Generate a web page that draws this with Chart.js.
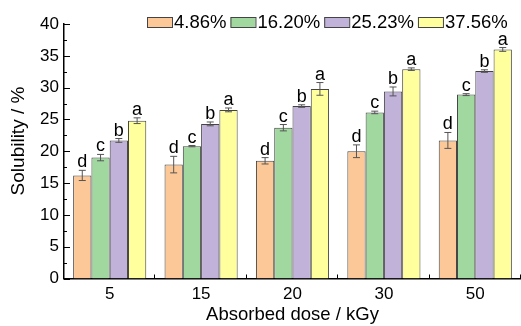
<!DOCTYPE html>
<html>
<head>
<meta charset="utf-8">
<script src="https://cdn.jsdelivr.net/npm/chart.js@4/dist/chart.umd.min.js"></script>
<style>
	html, body { margin: 0; padding: 0; background: #fff; }
	#wrap { width: 521px; height: 326px; }
</style>
</head>
<body>
<div id="wrap"><canvas id="bar-chart"></canvas></div>
<script>
var doses = ['5', '15', '20', '30', '50'];
var seriesLabels = ['4.86%', '16.20%', '25.23%', '37.56%'];

var sol486 = [16.2, 17.9, 18.5, 20.0, 21.7];
var sol1620 = [19.0, 20.8, 23.7, 26.1, 28.9];
var sol2523 = [21.7, 24.3, 27.1, 29.4, 32.6];
var sol3756 = [24.8, 26.5, 29.8, 32.9, 36.0];

var err486 = [0.8, 1.3, 0.5, 1.0, 1.25];
var err1620 = [0.5, 0.1, 0.5, 0.2, 0.15];
var err2523 = [0.3, 0.3, 0.2, 0.7, 0.2];
var err3756 = [0.45, 0.3, 1.0, 0.2, 0.3];

var sig486 = ['d', 'd', 'd', 'd', 'd'];
var sig1620 = ['c', 'c', 'c', 'c', 'c'];
var sig2523 = ['b', 'b', 'b', 'b', 'b'];
var sig3756 = ['a', 'a', 'a', 'a', 'a'];

var yMin = 0, yMax = 40, yStep = 5;
var yTitle = 'Solubility / %';
var xTitle = 'Absorbed dose / kGy';

var fillColors = ['#FDC898', '#A0D8A0', '#C0B2D8', '#FFFF9E'];
var FONT = 'Arial, "Liberation Sans", sans-serif';

Chart.defaults.font.family = FONT;
Chart.defaults.color = '#000';

// error bars + significance letters
var errorBarPlugin = {
	id: 'errorBars',
	afterDatasetsDraw: function (chart) {
		var ctx = chart.ctx;
		var y = chart.scales.y;
		ctx.save();
		chart.data.datasets.forEach(function (ds, di) {
			var meta = chart.getDatasetMeta(di);
			meta.data.forEach(function (bar, i) {
				var v = ds.data[i], e = ds.errors[i];
				var top = y.getPixelForValue(v + e);
				var bot = y.getPixelForValue(v - e);
				ctx.strokeStyle = '#555';
				ctx.lineWidth = 1;
				ctx.beginPath();
				ctx.moveTo(bar.x, top); ctx.lineTo(bar.x, bot);
				ctx.moveTo(bar.x - 3.5, top); ctx.lineTo(bar.x + 3.5, top);
				ctx.moveTo(bar.x - 3.5, bot); ctx.lineTo(bar.x + 3.5, bot);
				ctx.stroke();
				ctx.fillStyle = '#000';
				ctx.font = '18px ' + FONT;
				ctx.textAlign = 'center';
				ctx.textBaseline = 'alphabetic';
				ctx.fillText(ds.letters[i], bar.x, top - 3);
			});
		});
		ctx.restore();
	}
};

// inward ticks (Origin style), y title, legend row on top
var axisDecorPlugin = {
	id: 'axisDecor',
	afterDraw: function (chart) {
		var ctx = chart.ctx;
		var x = chart.scales.x, y = chart.scales.y;
		ctx.save();
		ctx.strokeStyle = '#000';
		ctx.lineWidth = 1;
		ctx.beginPath();
		for (var v = yMin; v <= yMax + 0.001; v += yStep / 2) {
			var py = Math.round(y.getPixelForValue(v)) + 0.5;
			var len = (v % yStep === 0) ? 6 : 3;
			ctx.moveTo(x.left, py); ctx.lineTo(x.left + len, py);
		}
		for (var i = 1; i <= doses.length; i++) {
			var px = Math.round(x.getPixelForValue(i - 0.5)) - 0.5;
			ctx.moveTo(px, y.bottom); ctx.lineTo(px, y.bottom - 4);
		}
		ctx.stroke();

		// y title sits a bit above the middle in the original
		ctx.save();
		ctx.translate(18.5, 141);
		ctx.rotate(-Math.PI / 2);
		ctx.font = '19px ' + FONT;
		ctx.fillStyle = '#000';
		ctx.textAlign = 'center';
		ctx.textBaseline = 'middle';
		ctx.fillText(yTitle, 0, 0);
		ctx.restore();

		// legend
		ctx.font = '18.5px ' + FONT;
		ctx.textBaseline = 'middle';
		ctx.textAlign = 'left';
		var lx = 147, ly = 17, bw = 25, bh = 10;
		chart.data.datasets.forEach(function (ds) {
			ctx.fillStyle = ds.backgroundColor;
			ctx.fillRect(lx, ly, bw, bh);
			ctx.strokeStyle = '#444';
			ctx.strokeRect(lx + 0.5, ly + 0.5, bw, bh);
			ctx.fillStyle = '#000';
			ctx.fillText(ds.label, lx + bw + 2, ly + bh / 2 + 1);
			lx += bw + 2 + ctx.measureText(ds.label).width + 4;
		});
		ctx.restore();
	}
};

var seriesValues = [sol486, sol1620, sol2523, sol3756];
var seriesErrors = [err486, err1620, err2523, err3756];
var seriesLetters = [sig486, sig1620, sig2523, sig3756];

var datasets = [];
for (var s = 0; s < seriesLabels.length; s++) {
	datasets.push({
		label: seriesLabels[s],
		data: seriesValues[s],
		errors: seriesErrors[s],
		letters: seriesLetters[s],
		backgroundColor: fillColors[s],
		borderColor: '#444',
		borderWidth: 1,
		categoryPercentage: 0.8,
		barPercentage: 1.0
	});
}

var barChart = new Chart(document.getElementById('bar-chart'), {
	type: 'bar',
	data: {
		labels: doses,
		datasets: datasets
	},
	options: {
		responsive: true,
		maintainAspectRatio: false,
		animation: false,
		layout: {
			padding: { top: 24, right: 0, bottom: 0, left: 0 }
		},
		plugins: {
			legend: { display: false },
			tooltip: { enabled: false }
		},
		scales: {
			x: {
				grid: { display: false, drawTicks: false },
				border: { display: true, color: '#000', width: 1.5 },
				ticks: { padding: 6, font: { size: 17 } },
				title: {
					display: true,
					text: xTitle,
					font: { size: 18.5 },
					padding: { top: 0, bottom: 0 }
				},
				afterFit: function (scale) { scale.height = 47.5; }
			},
			y: {
				min: yMin,
				max: yMax,
				ticks: { stepSize: yStep, padding: 5, font: { size: 17 } },
				grid: { display: false, drawTicks: false },
				border: { display: true, color: '#000', width: 1.5 },
				afterFit: function (scale) { scale.width = 64; }
			}
		}
	},
	plugins: [errorBarPlugin, axisDecorPlugin]
});
</script>
</body>
</html>
